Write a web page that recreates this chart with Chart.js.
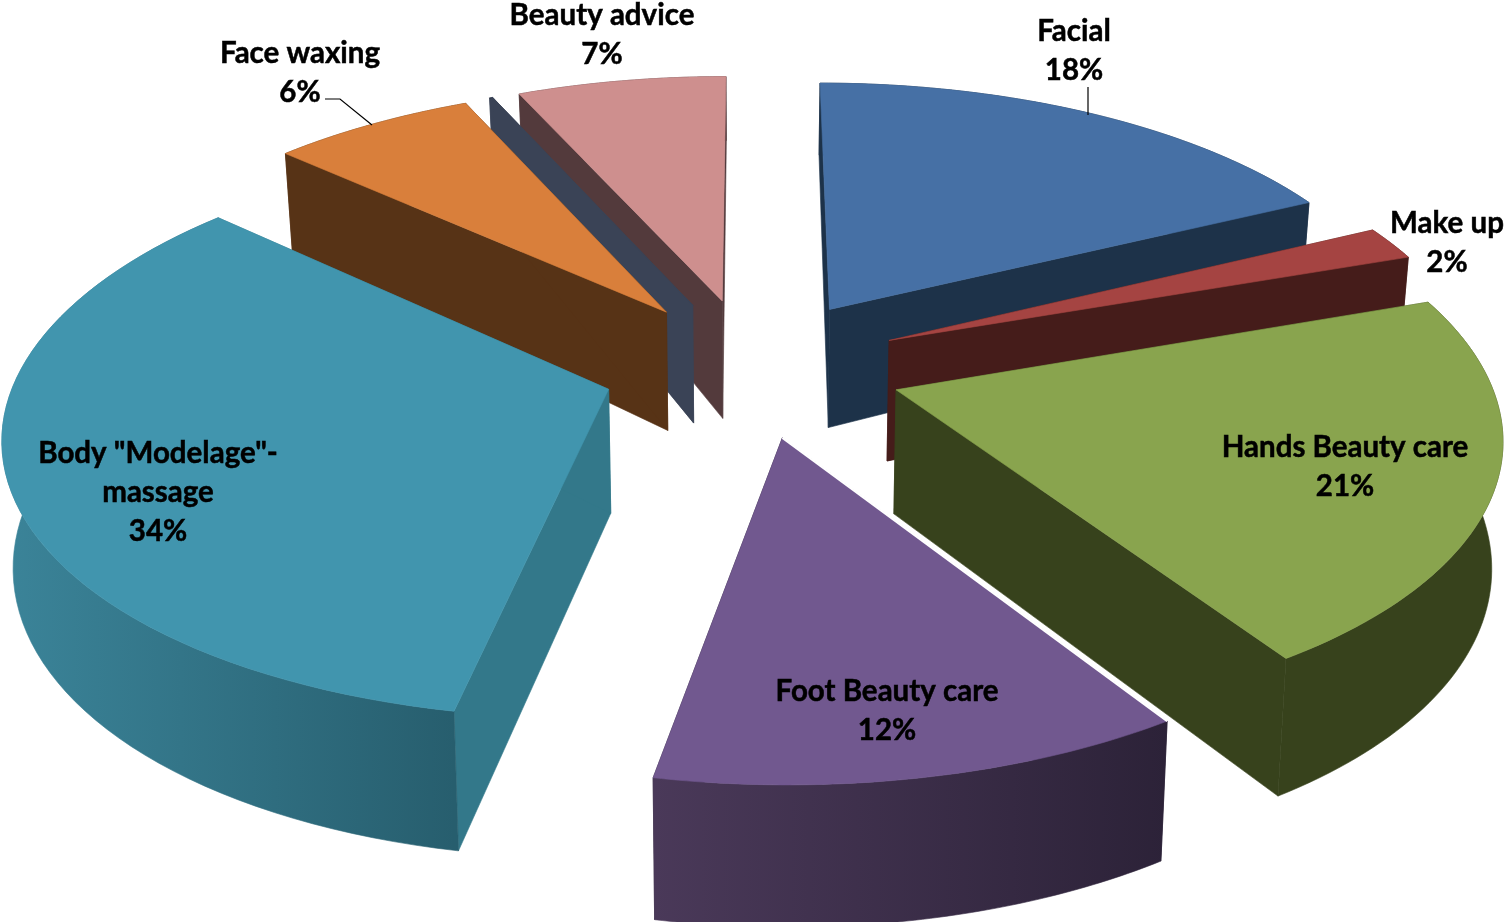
<!DOCTYPE html>
<html>
<head>
<meta charset="utf-8">
<title>Beauty services</title>
<script src="https://cdn.jsdelivr.net/npm/chart.js@4"></script>
<style>
  html, body { margin: 0; background: #fff; }
  canvas { display: block; }
</style>
</head>
<body>
<canvas id="pie3d" width="1505" height="922"></canvas>
<script>
const categories = ['Facial', 'Make up', 'Hands Beauty care', 'Foot Beauty care', 'Body "Modelage"-\nmassage', 'Face waxing', '', 'Beauty advice'];
// shares, the printed percents are rounded
const shares = [17.75, 1.95, 21.15, 12.15, 33.7, 6.5, 0.1, 6.7];
const percentLabels = ['18%', '2%', '21%', '12%', '34%', '6%', '', '7%'];

// style of each slice
const topColors = ['#4670a5', '#a54442', '#89a44e', '#71588f', '#4195ae', '#d97f3b', '#3a4356', '#ce8f8e'];
const cutColors = ['#1d3249', '#451c1a', '#37421c', '#2e2438', '#33788a', '#573316', '#3a4356', '#533a3c'];
const rimLeft = ['#1d3249', '#451c1a', '#37421c', '#4a3959', '#3b8499', '#573316', '#3a4356', '#533a3c'];
const rimRight = ['#1d3249', '#451c1a', '#37421c', '#2c2238', '#275e6e', '#573316', '#3a4356', '#533a3c'];

// label placement, [centre x, middle of first line]
const labelSpots = [[1074, 31], [1447, 223], [1345, 447], [887, 691], [158, 453], [300, 53], null, [602, 15]];
const leaders = [[[1088, 87], [1088, 115]], [[325, 99], [340, 99], [372, 125]]];

// camera
const cx = 752.5, horizon = -1536, spread = 0.31, far = 6.937, persp = 13200;

function project(x, y) {
  const h = persp / (far - y);
  return [cx + x * spread * h, horizon + h];
}

function dropped(p) {
  const depth = 142 * Math.pow((p[1] - 70) / 708, 0.17);
  return [cx + (p[0] - cx) * 0.985, p[1] + depth];
}

function fillPoly(ctx, pts, fill) {
  ctx.beginPath();
  pts.forEach((p, i) => i ? ctx.lineTo(p[0], p[1]) : ctx.moveTo(p[0], p[1]));
  ctx.closePath();
  ctx.fillStyle = fill;
  ctx.fill();
  // same colour hairline so neighbours dont show seams
  ctx.strokeStyle = fill;
  ctx.lineWidth = 0.6;
  ctx.stroke();
}

const slices3d = {
  id: 'slices3d',
  beforeDatasetDraw(chart, args) {
    const ctx = chart.ctx;
    const arcs = chart.getDatasetMeta(args.index).data;
    const order = arcs.map((a, i) => i).sort((i, j) => {
      const mid = a => (a.startAngle + a.endAngle) / 2;
      return Math.sin(mid(arcs[i])) - Math.sin(mid(arcs[j]));
    });

    order.forEach(i => {
      const arc = arcs[i];
      const t = arc.options.offset / arc.outerRadius;
      const mid = (arc.startAngle + arc.endAngle) / 2;
      const ox = t * Math.cos(mid), oy = t * Math.sin(mid);
      const apex = project(ox, oy);
      const steps = 64;
      const rim = [];
      for (let s = 0; s <= steps; s++) {
        const a = arc.startAngle + (arc.endAngle - arc.startAngle) * s / steps;
        rim.push(project(ox + Math.cos(a), oy + Math.sin(a)));
      }
      const rimLow = rim.map(dropped);

      // cut faces
      fillPoly(ctx, [apex, rim[0], rimLow[0], dropped(apex)], cutColors[i]);
      fillPoly(ctx, [apex, rim[steps], rimLow[steps], dropped(apex)], cutColors[i]);

      // curved outer wall
      const us = rim.map(p => p[0]);
      const grad = ctx.createLinearGradient(Math.min(...us), 0, Math.max(...us), 0);
      grad.addColorStop(0, rimLeft[i]);
      grad.addColorStop(1, rimRight[i]);
      fillPoly(ctx, rim.concat(rimLow.slice().reverse()), grad);

      // top face
      fillPoly(ctx, [apex].concat(rim), topColors[i]);

      // foot slice has a thin white edge against the hands wall
      if (categories[i] === 'Foot Beauty care') {
        ctx.beginPath();
        ctx.moveTo(apex[0], apex[1]);
        ctx.lineTo(rim[0][0], rim[0][1]);
        ctx.strokeStyle = '#fff';
        ctx.lineWidth = 2;
        ctx.stroke();
      }
    });
    return false;
  },
  afterDatasetsDraw(chart) {
    const ctx = chart.ctx;
    ctx.strokeStyle = '#000';
    ctx.lineWidth = 1.2;
    leaders.forEach(line => {
      ctx.beginPath();
      line.forEach((p, i) => i ? ctx.lineTo(p[0], p[1]) : ctx.moveTo(p[0], p[1]));
      ctx.stroke();
    });
    ctx.fillStyle = '#000';
    ctx.font = 'bold 29.5px Lato';
    ctx.textAlign = 'center';
    ctx.textBaseline = 'middle';
    ctx.lineWidth = 0.5;
    categories.forEach((name, i) => {
      if (!labelSpots[i]) return;
      const lines = name.split('\n').concat(percentLabels[i]);
      lines.forEach((txt, n) => {
        ctx.fillText(txt, labelSpots[i][0], labelSpots[i][1] + n * 39);
        ctx.strokeText(txt, labelSpots[i][0], labelSpots[i][1] + n * 39);
      });
    });
  }
};

new Chart(document.getElementById('pie3d').getContext('2d'), {
  type: 'pie',
  data: {
    labels: categories,
    datasets: [{ data: shares, backgroundColor: topColors, borderWidth: 0, offset: 104, hoverOffset: 0 }]
  },
  options: {
    responsive: false,
    animation: false,
    rotation: 0,
    plugins: { legend: { display: false }, tooltip: { enabled: false } }
  },
  plugins: [slices3d]
});
</script>
</body>
</html>
